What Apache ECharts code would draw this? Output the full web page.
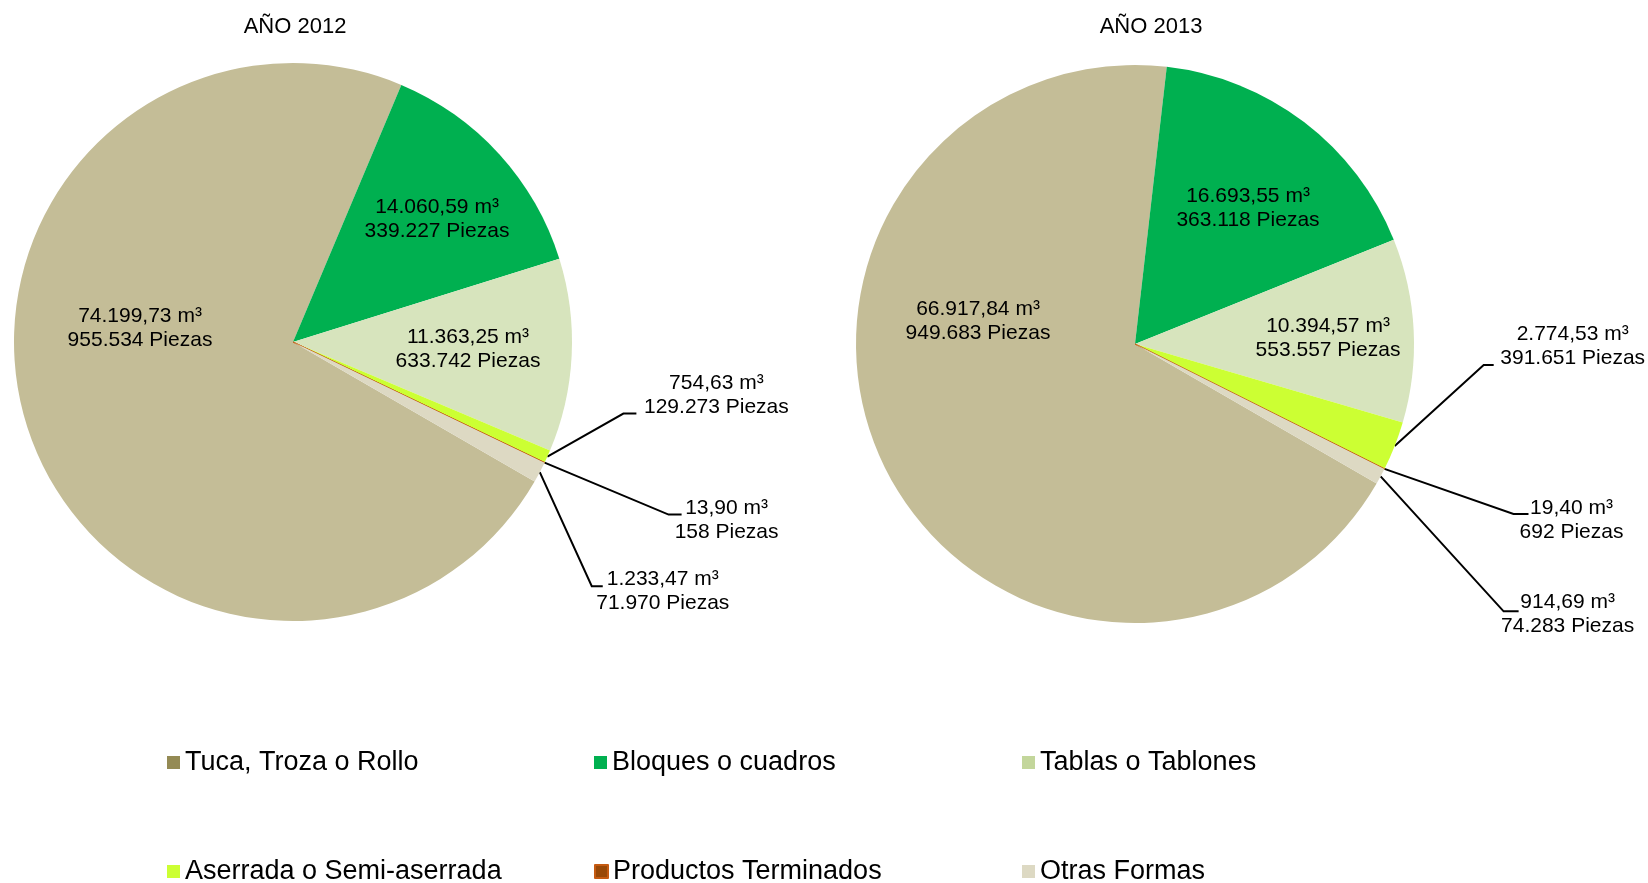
<!DOCTYPE html>
<html>
<head>
<meta charset="utf-8">
<title>Aprovechamiento forestal 2012 - 2013</title>
<script src="https://cdn.jsdelivr.net/npm/echarts@6/dist/echarts.min.js"></script>
<style>
  html, body { margin: 0; padding: 0; background: #fff; }
  #chart { width: 1648px; height: 883px; }
</style>
</head>
<body>
<div id="chart"></div>
<script>
// datos
const categories = ['Tuca, Troza o Rollo', 'Bloques o cuadros', 'Tablas o Tablones',
  'Aserrada o Semi-aserrada', 'Productos Terminados', 'Otras Formas'];
const years = ['AÑO 2012', 'AÑO 2013'];
const volumes2012 = [74199.73, 14060.59, 11363.25, 754.63, 13.90, 1233.47];
const pieces2012 = [955534, 339227, 633742, 129273, 158, 71970];
const volumes2013 = [66917.84, 16693.55, 10394.57, 2774.53, 19.40, 914.69];
const pieces2013 = [949683, 363118, 553557, 391651, 692, 74283];

// colores (las porciones y la leyenda no usan el mismo tono)
const sliceColors = ['#C4BD97', '#00B050', '#D7E4BD', '#CCFF33', '#C55A11', '#DDD9C3'];
const legendColors = ['#948A54', '#00B050', '#C3D69B', '#CCFF33', '#984807', '#DDD9C3'];

const pieCenters = [[293, 342], [1135, 344]];
const titleX = [295, 1151];

// posición de etiquetas: dentro = desplazamiento desde el centro,
// fuera = codo de la línea guía desde el borde, tramo horizontal, centro de la etiqueta
const labelSpots = [
  [
    { inside: true, dx: -153, dy: -14 },
    { inside: true, dx: 144, dy: -123 },
    { inside: true, dx: 175, dy: 7 },
    { ex: 76, ey: -43, h: 13, lx: 80, ly: -18 },
    { ex: 124, ey: 52, h: 13, lx: 45, ly: 6 },
    { ex: 52, ey: 114, h: 11, lx: 60, ly: 5 }
  ],
  [
    { inside: true, dx: -157, dy: -23 },
    { inside: true, dx: 113, dy: -136 },
    { inside: true, dx: 193, dy: -6 },
    { ex: 89, ey: -81, h: 10, lx: 79, ly: -19 },
    { ex: 129, ey: 45, h: 15, lx: 43, ly: 6 },
    { ex: 123, ey: 135, h: 15, lx: 49, ly: 3 }
  ]
];

const legendCols = [167, 594, 1022];
const legendRows = [749, 858];

function groupDigits(intStr) {
  return intStr.replace(/\B(?=(\d{3})+(?!\d))/g, '.');
}

function fmtVolume(v) {
  const parts = v.toFixed(2).split('.');
  return groupDigits(parts[0]) + ',' + parts[1] + ' m³';
}

function fmtPieces(n) {
  return groupDigits(String(n)) + ' Piezas';
}

function makeLayout(idx) {
  return function (p) {
    const spot = labelSpots[idx][p.dataIndex];
    const c = pieCenters[idx];
    if (spot.inside) {
      return { x: c[0] + spot.dx, y: c[1] + spot.dy, align: 'center', verticalAlign: 'middle' };
    }
    const s = p.labelLinePoints[0];
    const elbow = [s[0] + spot.ex, s[1] + spot.ey];
    const end = [elbow[0] + spot.h, elbow[1]];
    return {
      x: end[0] + spot.lx,
      y: end[1] + spot.ly,
      align: 'center',
      verticalAlign: 'middle',
      labelLinePoints: [s, elbow, end]
    };
  };
}

function buildSeries(idx, volumes, pieces) {
  return {
    type: 'pie',
    name: years[idx],
    center: pieCenters[idx],
    radius: 279,
    startAngle: -30,
    clockwise: true,
    avoidLabelOverlap: false,
    emphasis: { disabled: true },
    label: {
      show: true,
      position: 'outside',
      color: '#000',
      fontFamily: 'Liberation Sans',
      fontSize: 21,
      lineHeight: 24,
      formatter: p => fmtVolume(volumes[p.dataIndex]) + '\n' + fmtPieces(pieces[p.dataIndex])
    },
    labelLine: {
      show: true,
      length: 10,
      length2: 10,
      lineStyle: { color: '#000', width: 2 }
    },
    labelLayout: makeLayout(idx),
    data: categories.map((name, i) => {
      const inside = labelSpots[idx][i].inside;
      const item = {
        name: name,
        value: volumes[i],
        itemStyle: { color: sliceColors[i], borderWidth: 0 }
      };
      if (inside) {
        item.label = { position: 'inside' };
        item.labelLine = { show: false };
      }
      if (i === 4) {
        item.itemStyle.borderColor = sliceColors[i];
        item.itemStyle.borderWidth = 1;
      }
      return item;
    })
  };
}

const chart = echarts.init(document.getElementById('chart'));

chart.setOption({
  animation: false,
  backgroundColor: '#fff',
  title: years.map((t, i) => ({
    text: t,
    left: titleX[i],
    top: 16,
    textAlign: 'center',
    padding: 0,
    textStyle: { fontFamily: 'Liberation Sans', fontSize: 22, fontWeight: 'normal', color: '#000' }
  })),
  legend: categories.map((name, i) => ({
    data: [{ name: name, itemStyle: { color: legendColors[i] } }],
    left: legendCols[i % 3],
    top: legendRows[Math.floor(i / 3)],
    padding: 0,
    icon: 'rect',
    itemWidth: 13,
    itemHeight: 13,
    selectedMode: false,
    textStyle: { fontFamily: 'Liberation Sans', fontSize: 27, color: '#000' }
  })),
  series: [
    buildSeries(0, volumes2012, pieces2012),
    buildSeries(1, volumes2013, pieces2013)
  ]
});
</script>
</body>
</html>
